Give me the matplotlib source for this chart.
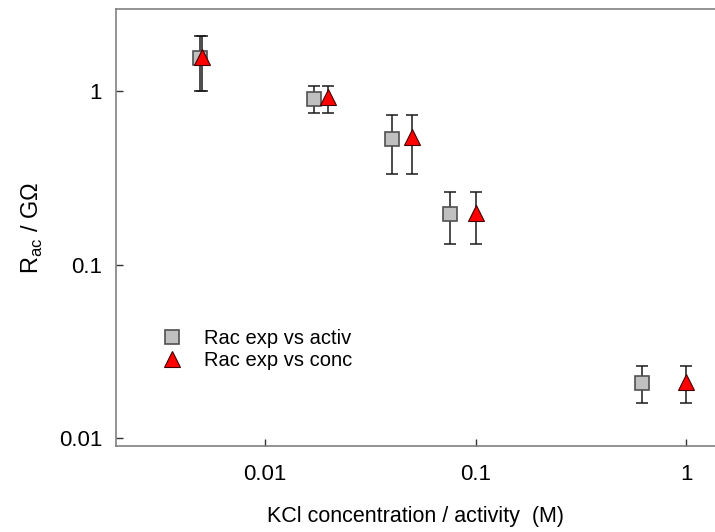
import numpy as np
import matplotlib
matplotlib.use("Agg")
import matplotlib.pyplot as plt
from matplotlib.ticker import FixedLocator, FixedFormatter, NullLocator

plt.rcParams['font.family'] = ['Liberation Sans', 'DejaVu Sans']

# Rac vs activity (grey squares)
act_x = [0.0049, 0.0171, 0.0401, 0.0757, 0.618]
act_y = [1.55, 0.905, 0.532, 0.196, 0.0208]
# Rac vs concentration (red triangles)
conc_x = [0.005, 0.02, 0.05, 0.1, 1.0]
conc_y = [1.57, 0.93, 0.546, 0.199, 0.0210]
# error bar limits (same for both series)
err_hi = [2.09, 1.076, 0.731, 0.263, 0.0261]
err_lo = [1.0, 0.751, 0.334, 0.132, 0.0159]

x_ticks = [0.01, 0.1, 1]
x_labels = ["0.01", "0.1", "1"]
y_ticks = [0.01, 0.1, 1]
y_labels = ["0.01", "0.1", "1"]

fig = plt.figure(figsize=(7.15, 5.32), dpi=100)
ax = fig.add_axes([116/715, 1-446/532, 1-116/715, 437/532])

def yerr(yv):
    yv = np.array(yv)
    return [yv - np.array(err_lo), np.array(err_hi) - yv]

ax.errorbar(act_x, act_y, yerr=yerr(act_y), fmt='none', ecolor='#1a1a1a',
            elinewidth=1.1, capsize=4.5, capthick=1.1, zorder=2)
ax.errorbar(conc_x, conc_y, yerr=yerr(conc_y), fmt='none', ecolor='#1a1a1a',
            elinewidth=1.1, capsize=4.5, capthick=1.1, zorder=2)
h1, = ax.plot(act_x, act_y, 's', ms=10.5, mfc='#c0c0c0', mec='#505050',
              mew=1.2, zorder=3, label='Rac exp vs activ')
h2, = ax.plot(conc_x, conc_y, '^', ms=12, mfc='#ff0000', mec='#400000',
              mew=0.8, zorder=4, label='Rac exp vs conc')

ax.set_xscale('log')
ax.set_yscale('log')
ax.set_xlim(0.00196, 1.37)
ax.set_ylim(0.0090, 2.99)

ax.xaxis.set_major_locator(FixedLocator(x_ticks))
ax.xaxis.set_major_formatter(FixedFormatter(x_labels))
ax.yaxis.set_major_locator(FixedLocator(y_ticks))
ax.yaxis.set_major_formatter(FixedFormatter(y_labels))
ax.xaxis.set_minor_locator(NullLocator())
ax.yaxis.set_minor_locator(NullLocator())
ax.tick_params(direction='in', length=5, width=1, color='#333333',
               labelsize=16, pad=13)
ax.tick_params(axis='y', pad=10)

for s in ['left', 'bottom', 'top']:
    ax.spines[s].set_color('#808080')
    ax.spines[s].set_linewidth(1.2)
ax.spines['right'].set_visible(False)

ax.set_xlabel('KCl concentration / activity  (M)', fontsize=15.5, labelpad=15)
ax.set_ylabel('R$_\\mathregular{ac}$ / G\u03a9', fontsize=17, labelpad=10)

ax.legend(handles=[h1, h2], loc='upper left', bbox_to_anchor=(0.047, 0.31),
          frameon=False, fontsize=14.5, handletextpad=1.05, labelspacing=0.15,
          handlelength=1.0)

fig.savefig('out.png', dpi=100)
